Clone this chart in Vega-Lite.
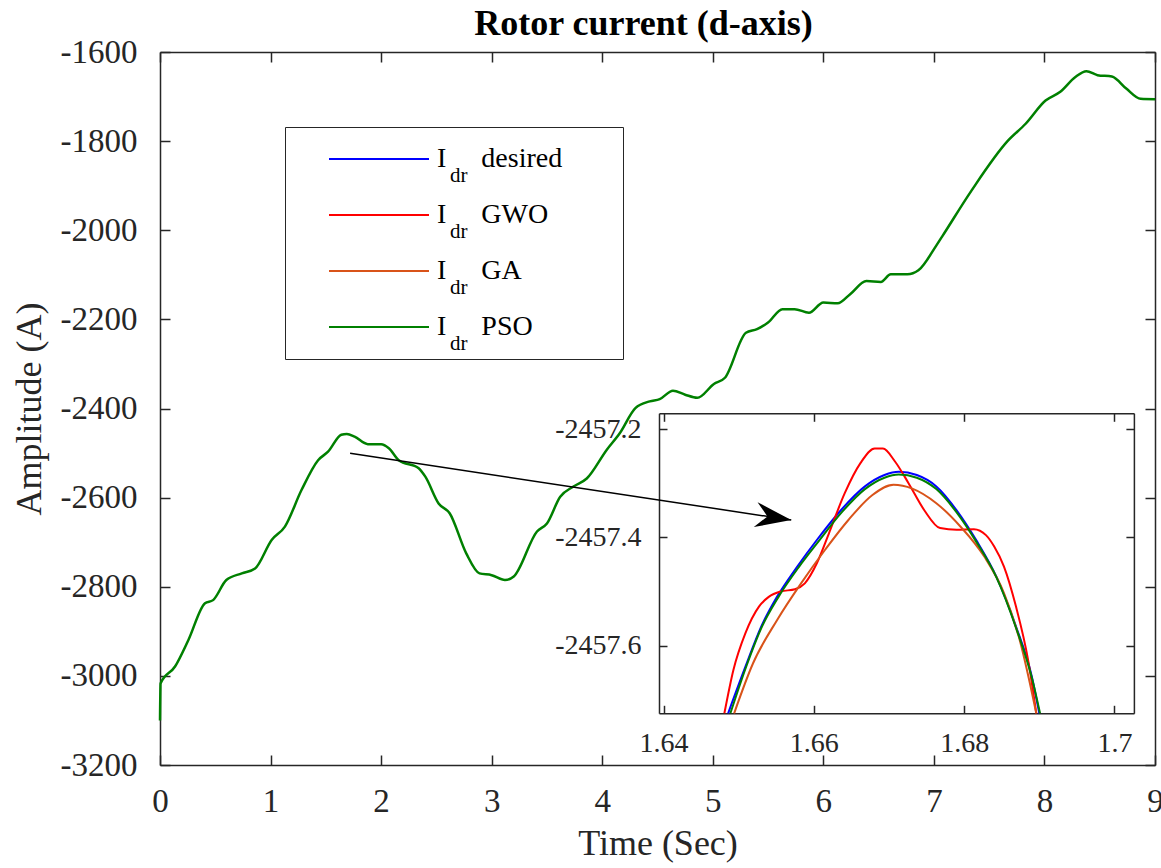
{
  "$schema": "https://vega.github.io/schema/vega-lite/v6.json",
  "width": 995,
  "height": 713,
  "autosize": {"type": "none"},
  "padding": {"left": 160, "top": 52, "right": 6, "bottom": 103},
  "background": "white",
  "title": {"text": "Rotor current (d-axis)", "font": "Liberation Serif", "fontSize": 36, "fontWeight": "bold", "color": "black", "offset": -7, "dx": -14, "frame": "group"},
  "config": {
    "view": {"stroke": null},
    "axis": {"domainColor": "#262626", "domainWidth": 1.5, "tickColor": "#262626", "tickWidth": 1.5, "labelFont": "Liberation Serif", "titleFont": "Liberation Serif", "labelColor": "#262626", "titleColor": "#262626", "grid": false, "titleFontWeight": "normal", "labelFlush": false}
  },
  "datasets": {
    "main": [
      {"t": 0, "v": -3100, "series": "PSO"},
      {"t": 0.005, "v": -3017, "series": "PSO"},
      {"t": 0.136, "v": -2979, "series": "PSO"},
      {"t": 0.256, "v": -2920, "series": "PSO"},
      {"t": 0.407, "v": -2837, "series": "PSO"},
      {"t": 0.48, "v": -2830, "series": "PSO"},
      {"t": 0.6, "v": -2785, "series": "PSO"},
      {"t": 0.74, "v": -2770, "series": "PSO"},
      {"t": 0.86, "v": -2759, "series": "PSO"},
      {"t": 1.01, "v": -2695, "series": "PSO"},
      {"t": 1.13, "v": -2665, "series": "PSO"},
      {"t": 1.28, "v": -2583, "series": "PSO"},
      {"t": 1.43, "v": -2516, "series": "PSO"},
      {"t": 1.52, "v": -2497, "series": "PSO"},
      {"t": 1.64, "v": -2459, "series": "PSO"},
      {"t": 1.69, "v": -2457, "series": "PSO"},
      {"t": 1.76, "v": -2463, "series": "PSO"},
      {"t": 1.88, "v": -2480, "series": "PSO"},
      {"t": 2.0, "v": -2480, "series": "PSO"},
      {"t": 2.07, "v": -2489, "series": "PSO"},
      {"t": 2.16, "v": -2516, "series": "PSO"},
      {"t": 2.34, "v": -2534, "series": "PSO"},
      {"t": 2.4, "v": -2553, "series": "PSO"},
      {"t": 2.52, "v": -2613, "series": "PSO"},
      {"t": 2.62, "v": -2635, "series": "PSO"},
      {"t": 2.77, "v": -2725, "series": "PSO"},
      {"t": 2.89, "v": -2770, "series": "PSO"},
      {"t": 3.0, "v": -2774, "series": "PSO"},
      {"t": 3.12, "v": -2785, "series": "PSO"},
      {"t": 3.2, "v": -2777, "series": "PSO"},
      {"t": 3.41, "v": -2676, "series": "PSO"},
      {"t": 3.5, "v": -2658, "series": "PSO"},
      {"t": 3.62, "v": -2598, "series": "PSO"},
      {"t": 3.74, "v": -2575, "series": "PSO"},
      {"t": 3.86, "v": -2557, "series": "PSO"},
      {"t": 4.04, "v": -2493, "series": "PSO"},
      {"t": 4.16, "v": -2455, "series": "PSO"},
      {"t": 4.3, "v": -2399, "series": "PSO"},
      {"t": 4.43, "v": -2384, "series": "PSO"},
      {"t": 4.52, "v": -2379, "series": "PSO"},
      {"t": 4.64, "v": -2360, "series": "PSO"},
      {"t": 4.75, "v": -2369, "series": "PSO"},
      {"t": 4.86, "v": -2376, "series": "PSO"},
      {"t": 5.01, "v": -2345, "series": "PSO"},
      {"t": 5.11, "v": -2331, "series": "PSO"},
      {"t": 5.3, "v": -2230, "series": "PSO"},
      {"t": 5.4, "v": -2222, "series": "PSO"},
      {"t": 5.5, "v": -2207, "series": "PSO"},
      {"t": 5.63, "v": -2177, "series": "PSO"},
      {"t": 5.74, "v": -2177, "series": "PSO"},
      {"t": 5.87, "v": -2185, "series": "PSO"},
      {"t": 6.0, "v": -2162, "series": "PSO"},
      {"t": 6.13, "v": -2164, "series": "PSO"},
      {"t": 6.24, "v": -2144, "series": "PSO"},
      {"t": 6.39, "v": -2114, "series": "PSO"},
      {"t": 6.52, "v": -2116, "series": "PSO"},
      {"t": 6.61, "v": -2099, "series": "PSO"},
      {"t": 6.76, "v": -2099, "series": "PSO"},
      {"t": 6.86, "v": -2090, "series": "PSO"},
      {"t": 7.02, "v": -2035, "series": "PSO"},
      {"t": 7.08, "v": -2012, "series": "PSO"},
      {"t": 7.34, "v": -1911, "series": "PSO"},
      {"t": 7.67, "v": -1799, "series": "PSO"},
      {"t": 7.83, "v": -1761, "series": "PSO"},
      {"t": 8.01, "v": -1709, "series": "PSO"},
      {"t": 8.14, "v": -1690, "series": "PSO"},
      {"t": 8.28, "v": -1656, "series": "PSO"},
      {"t": 8.38, "v": -1643, "series": "PSO"},
      {"t": 8.48, "v": -1652, "series": "PSO"},
      {"t": 8.61, "v": -1655, "series": "PSO"},
      {"t": 8.74, "v": -1682, "series": "PSO"},
      {"t": 8.87, "v": -1705, "series": "PSO"},
      {"t": 9.0, "v": -1706, "series": "PSO"}
    ],
    "inset": [
      {"t": 1.6486, "v": -2457.725, "series": "desired"},
      {"t": 1.6509, "v": -2457.639, "series": "desired"},
      {"t": 1.653, "v": -2457.565, "series": "desired"},
      {"t": 1.6551, "v": -2457.51, "series": "desired"},
      {"t": 1.6578, "v": -2457.454, "series": "desired"},
      {"t": 1.6604, "v": -2457.405, "series": "desired"},
      {"t": 1.6636, "v": -2457.35, "series": "desired"},
      {"t": 1.6668, "v": -2457.306, "series": "desired"},
      {"t": 1.6694, "v": -2457.285, "series": "desired"},
      {"t": 1.6713, "v": -2457.279, "series": "desired"},
      {"t": 1.6737, "v": -2457.285, "series": "desired"},
      {"t": 1.6763, "v": -2457.306, "series": "desired"},
      {"t": 1.679, "v": -2457.35, "series": "desired"},
      {"t": 1.6816, "v": -2457.405, "series": "desired"},
      {"t": 1.6843, "v": -2457.473, "series": "desired"},
      {"t": 1.6869, "v": -2457.565, "series": "desired"},
      {"t": 1.689, "v": -2457.657, "series": "desired"},
      {"t": 1.69, "v": -2457.725, "series": "desired"},
      {"t": 1.6481, "v": -2457.725, "series": "GWO"},
      {"t": 1.6493, "v": -2457.645, "series": "GWO"},
      {"t": 1.6509, "v": -2457.577, "series": "GWO"},
      {"t": 1.6527, "v": -2457.528, "series": "GWO"},
      {"t": 1.654, "v": -2457.51, "series": "GWO"},
      {"t": 1.6556, "v": -2457.5, "series": "GWO"},
      {"t": 1.6575, "v": -2457.496, "series": "GWO"},
      {"t": 1.6588, "v": -2457.485, "series": "GWO"},
      {"t": 1.6604, "v": -2457.448, "series": "GWO"},
      {"t": 1.662, "v": -2457.393, "series": "GWO"},
      {"t": 1.6641, "v": -2457.319, "series": "GWO"},
      {"t": 1.6662, "v": -2457.263, "series": "GWO"},
      {"t": 1.6681, "v": -2457.236, "series": "GWO"},
      {"t": 1.6692, "v": -2457.236, "series": "GWO"},
      {"t": 1.6708, "v": -2457.26, "series": "GWO"},
      {"t": 1.6726, "v": -2457.3, "series": "GWO"},
      {"t": 1.6747, "v": -2457.35, "series": "GWO"},
      {"t": 1.6768, "v": -2457.383, "series": "GWO"},
      {"t": 1.679, "v": -2457.386, "series": "GWO"},
      {"t": 1.6813, "v": -2457.385, "series": "GWO"},
      {"t": 1.6829, "v": -2457.396, "series": "GWO"},
      {"t": 1.684, "v": -2457.417, "series": "GWO"},
      {"t": 1.6853, "v": -2457.454, "series": "GWO"},
      {"t": 1.6869, "v": -2457.528, "series": "GWO"},
      {"t": 1.6885, "v": -2457.626, "series": "GWO"},
      {"t": 1.6896, "v": -2457.725, "series": "GWO"},
      {"t": 1.6494, "v": -2457.725, "series": "GA"},
      {"t": 1.6519, "v": -2457.633, "series": "GA"},
      {"t": 1.6551, "v": -2457.553, "series": "GA"},
      {"t": 1.6583, "v": -2457.485, "series": "GA"},
      {"t": 1.6615, "v": -2457.423, "series": "GA"},
      {"t": 1.6646, "v": -2457.368, "series": "GA"},
      {"t": 1.6678, "v": -2457.322, "series": "GA"},
      {"t": 1.6706, "v": -2457.303, "series": "GA"},
      {"t": 1.6731, "v": -2457.31, "series": "GA"},
      {"t": 1.6763, "v": -2457.337, "series": "GA"},
      {"t": 1.6795, "v": -2457.38, "series": "GA"},
      {"t": 1.6827, "v": -2457.436, "series": "GA"},
      {"t": 1.6853, "v": -2457.503, "series": "GA"},
      {"t": 1.6874, "v": -2457.59, "series": "GA"},
      {"t": 1.6896, "v": -2457.725, "series": "GA"},
      {"t": 1.6489, "v": -2457.725, "series": "PSO"},
      {"t": 1.651, "v": -2457.639, "series": "PSO"},
      {"t": 1.6531, "v": -2457.565, "series": "PSO"},
      {"t": 1.6553, "v": -2457.51, "series": "PSO"},
      {"t": 1.658, "v": -2457.455, "series": "PSO"},
      {"t": 1.6606, "v": -2457.408, "series": "PSO"},
      {"t": 1.6637, "v": -2457.354, "series": "PSO"},
      {"t": 1.6668, "v": -2457.311, "series": "PSO"},
      {"t": 1.6694, "v": -2457.29, "series": "PSO"},
      {"t": 1.6713, "v": -2457.284, "series": "PSO"},
      {"t": 1.6737, "v": -2457.29, "series": "PSO"},
      {"t": 1.6763, "v": -2457.311, "series": "PSO"},
      {"t": 1.679, "v": -2457.354, "series": "PSO"},
      {"t": 1.6816, "v": -2457.408, "series": "PSO"},
      {"t": 1.6843, "v": -2457.474, "series": "PSO"},
      {"t": 1.6869, "v": -2457.567, "series": "PSO"},
      {"t": 1.689, "v": -2457.659, "series": "PSO"},
      {"t": 1.6901, "v": -2457.725, "series": "PSO"}
    ],
    "arrow": [
      {"t": 1.7195, "v": -2500.6, "t2": 5.71, "v2": -2650.3}
    ]
  },
  "layer": [
    {
      "layer": [
        {
          "data": {"name": "main"},
          "mark": {"type": "line", "strokeWidth": 2.5, "interpolate": "monotone"},
          "encoding": {
            "x": {"field": "t", "type": "quantitative", "scale": {"domain": [0, 9], "nice": false, "zero": false},
              "axis": {"orient": "bottom", "values": [0, 1, 2, 3, 4, 5, 6, 7, 8, 9], "format": "d", "labelFontSize": 33, "tickSize": -10, "labelPadding": 30, "title": "Time (Sec)", "titleFontSize": 36, "titlePadding": 8}},
            "y": {"field": "v", "type": "quantitative", "scale": {"domain": [-3200, -1600], "nice": false, "zero": false},
              "axis": {"orient": "left", "values": [-3200, -3000, -2800, -2600, -2400, -2200, -2000, -1800, -1600], "labelExpr": "'-' + format(abs(datum.value), 'd')", "labelFontSize": 33, "tickSize": -10, "labelPadding": 33, "title": "Amplitude (A)", "titleFontSize": 36, "titlePadding": 12}},
            "color": {"field": "series", "type": "nominal",
              "scale": {"domain": ["desired", "GWO", "GA", "PSO"], "range": ["#0000FF", "#FF0000", "#D95319", "#008000"]},
              "legend": {"orient": "none", "legendX": 125, "legendY": 75, "title": null, "strokeColor": "#262626", "fillColor": "white", "padding": 18,
                "symbolType": "stroke", "symbolSize": 10000, "symbolStrokeWidth": 2, "symbolOffset": 25, "labelOffset": 7, "clipHeight": 28,
                "labelFont": "Liberation Serif", "labelFontSize": 28, "labelColor": "black", "rowPadding": 28, "labelLimit": 500,
                "labelExpr": "'I\u00a0\u00a0\u00a0\u00a0\u00a0' + (datum.label == 'desired' ? 'desired\u00a0\u00a0\u00a0\u00a0\u00a0\u00a0\u200b' : datum.label)"}},
            "opacity": {"field": "series", "type": "nominal",
              "scale": {"domain": ["PSO", "GA", "GWO", "desired"], "range": [1, 1, 1, 1]},
              "legend": {"orient": "none", "legendX": 269, "legendY": 113, "title": null, "padding": 0, "symbolSize": 0, "symbolOpacity": 0,
                "labelOffset": 0, "labelFont": "Liberation Serif", "labelFontSize": 21, "labelColor": "black", "rowPadding": 34, "labelExpr": "'dr'", "zindex": 2}}
          }
        },
        {
          "data": {"name": "arrow"},
          "mark": {"type": "rule", "color": "black", "strokeWidth": 1.5},
          "encoding": {
            "x": {"field": "t", "type": "quantitative", "axis": {"orient": "top", "labels": false, "values": [0, 1, 2, 3, 4, 5, 6, 7, 8, 9], "tickSize": -10, "title": null}},
            "y": {"field": "v", "type": "quantitative", "axis": {"orient": "right", "labels": false, "values": [-3200, -3000, -2800, -2600, -2400, -2200, -2000, -1800, -1600], "tickSize": -10, "title": null}},
            "x2": {"field": "t2"},
            "y2": {"field": "v2"}
          }
        },
        {
          "data": {"name": "arrow"},
          "mark": {"type": "point", "filled": true, "color": "black", "opacity": 1, "shape": "M0,0 L-1,-0.35 L-0.67,0 L-1,0.35 Z", "size": 5184, "angle": 8.6},
          "encoding": {
            "x": {"field": "t2", "type": "quantitative", "axis": null},
            "y": {"field": "v2", "type": "quantitative", "axis": null}
          }
        }
      ],
      "resolve": {"axis": {"x": "independent", "y": "independent"}}
    },
    {
      "data": {"name": "inset"},
      "layer": [
        {
          "transform": [{"filter": "datum.series != 'PSO'"}],
          "mark": {"type": "line", "strokeWidth": 2, "interpolate": "monotone"},
          "encoding": {
            "x": {"field": "t", "type": "quantitative", "scale": {"domain": [1.6394, 1.7026], "range": [499, 974], "nice": false, "zero": false},
              "axis": {"orient": "bottom", "offset": -51.7, "values": [1.64, 1.66, 1.68, 1.7], "format": ".2~f", "labelFontSize": 28, "tickSize": -8, "labelPadding": 24, "title": null}},
            "y": {"field": "v", "type": "quantitative", "scale": {"domain": [-2457.725, -2457.171], "range": [661.3, 361.3], "nice": false, "zero": false},
              "axis": {"orient": "left", "offset": -499, "values": [-2457.6, -2457.4, -2457.2], "labelExpr": "'-' + format(abs(datum.value), '.1f')", "labelFontSize": 28, "tickSize": -8, "labelPadding": 26, "title": null}},
            "color": {"field": "series", "type": "nominal", "scale": {"domain": ["desired", "GWO", "GA", "PSO"], "range": ["#0000FF", "#FF0000", "#D95319", "#008000"]}}
          }
        },
        {
          "transform": [{"filter": "datum.series == 'PSO'"}],
          "mark": {"type": "line", "strokeWidth": 2, "interpolate": "monotone"},
          "encoding": {
            "x": {"field": "t", "type": "quantitative", "axis": {"orient": "top", "offset": -361.3, "values": [1.64, 1.66, 1.68, 1.7], "labels": false, "tickSize": -8, "title": null}},
            "y": {"field": "v", "type": "quantitative", "axis": {"orient": "right", "offset": -21.1, "values": [-2457.6, -2457.4, -2457.2], "labels": false, "tickSize": -8, "title": null}},
            "color": {"field": "series", "type": "nominal", "scale": {"domain": ["desired", "GWO", "GA", "PSO"], "range": ["#0000FF", "#FF0000", "#D95319", "#008000"]}}
          }
        }
      ],
      "resolve": {"axis": {"x": "independent", "y": "independent"}}
    }
  ],
  "resolve": {"scale": {"x": "independent", "y": "independent"}, "axis": {"x": "independent", "y": "independent"}}
}
